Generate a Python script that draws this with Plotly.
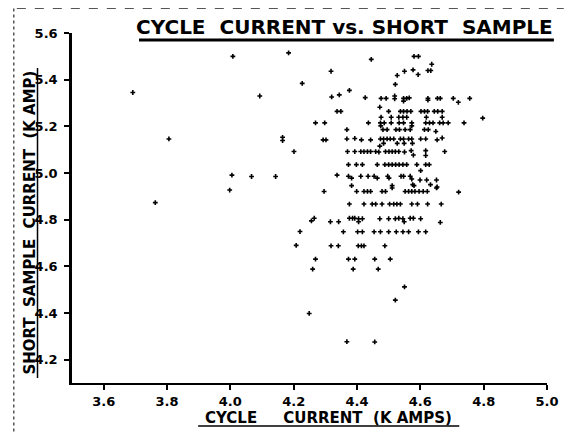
import plotly.graph_objects as go

# ---- data (k amps) ----
outlier_x = [3.692, 3.806, 3.763, 4.008, 4.093, 4.005, 3.998, 4.067, 4.143, 4.165, 4.165,
             4.184, 4.201, 4.227, 4.208, 4.220, 4.256, 4.265, 4.269, 4.260, 4.249,
             4.269, 4.298, 4.293, 4.302, 4.296, 4.318, 4.320, 4.344, 4.376, 4.337, 4.349,
             4.316, 4.342, 4.318, 4.341, 4.357, 4.337, 4.368, 4.368, 4.456, 4.521, 4.550,
             4.445, 4.580, 4.594, 4.797, 4.738, 4.721, 4.756, 4.704, 4.720]
outlier_y = [5.345, 5.146, 4.873, 5.500, 5.330, 4.991, 4.927, 4.985, 4.985, 5.153, 5.139,
             5.515, 5.092, 5.384, 4.690, 4.749, 4.795, 4.806, 4.631, 4.588, 4.398,
             5.215, 5.215, 5.142, 5.142, 4.921, 5.436, 5.326, 5.335, 5.354, 5.264, 5.264,
             4.791, 4.791, 4.688, 4.688, 4.748, 4.991, 5.186, 4.277, 4.276, 4.455, 4.512,
             5.487, 5.500, 5.500, 5.235, 5.215, 4.918, 5.320, 5.320, 5.303]

upper_x = [4.527, 4.550, 4.577, 4.593, 4.624, 4.633, 4.636, 4.521,
           4.426, 4.476, 4.492, 4.519, 4.519, 4.547, 4.557, 4.565, 4.547, 4.624, 4.624,
           4.654, 4.663,
           4.472, 4.500, 4.537, 4.547, 4.558, 4.570, 4.602, 4.613, 4.623, 4.644, 4.655, 4.669,
           4.476, 4.508, 4.532, 4.545, 4.557, 4.619, 4.669,
           4.436, 4.474, 4.486, 4.508, 4.533, 4.547, 4.573, 4.617, 4.629, 4.640, 4.661,
           4.672, 4.688, 4.475, 4.573]
upper_y = [5.418, 5.436, 5.442, 5.422, 5.439, 5.439, 5.466, 5.380,
           5.323, 5.320, 5.320, 5.330, 5.318, 5.320, 5.320, 5.322, 5.308, 5.320, 5.312,
           5.320, 5.320,
           5.282, 5.264, 5.264, 5.264, 5.264, 5.264, 5.264, 5.264, 5.264, 5.264, 5.264, 5.264,
           5.239, 5.239, 5.239, 5.239, 5.239, 5.239, 5.239,
           5.215, 5.215, 5.215, 5.215, 5.215, 5.215, 5.215, 5.215, 5.215, 5.215, 5.215,
           5.215, 5.215, 5.202, 5.202]

middle_x = [4.482, 4.495, 4.523, 4.534, 4.552, 4.568, 4.613, 4.625, 4.649,
            4.368, 4.393, 4.414, 4.443, 4.474, 4.484, 4.495, 4.505, 4.516, 4.537, 4.547,
            4.563, 4.573, 4.601, 4.617, 4.653, 4.669,
            4.484, 4.527, 4.549, 4.575, 4.472,
            4.370, 4.393, 4.412, 4.422, 4.433, 4.443, 4.459, 4.469, 4.490, 4.501, 4.511,
            4.521, 4.532, 4.550, 4.571, 4.578, 4.617, 4.617, 4.677,
            4.373, 4.398, 4.417, 4.464, 4.488, 4.500, 4.511, 4.522, 4.533, 4.545, 4.557,
            4.589, 4.617, 4.628, 4.601]
middle_y = [5.186, 5.186, 5.186, 5.186, 5.186, 5.186, 5.186, 5.186, 5.178,
            5.146, 5.148, 5.142, 5.142, 5.146, 5.146, 5.146, 5.146, 5.146, 5.146, 5.146,
            5.146, 5.146, 5.146, 5.146, 5.142, 5.150,
            5.127, 5.127, 5.127, 5.127, 5.115,
            5.092, 5.092, 5.092, 5.092, 5.092, 5.092, 5.092, 5.090, 5.092, 5.092, 5.092,
            5.092, 5.092, 5.090, 5.096, 5.077, 5.096, 5.075, 5.092,
            5.036, 5.036, 5.036, 5.036, 5.036, 5.036, 5.036, 5.036, 5.036, 5.036, 5.036,
            5.036, 5.036, 5.036, 5.010]

lower_x = [4.373, 4.383, 4.412, 4.435, 4.454, 4.464, 4.497, 4.501, 4.539, 4.547, 4.568,
           4.573, 4.599, 4.620, 4.651,
           4.383, 4.511, 4.576, 4.580, 4.632, 4.653,
           4.399, 4.422, 4.433, 4.443, 4.479, 4.490, 4.511, 4.552, 4.563, 4.573, 4.583,
           4.596, 4.609, 4.622, 4.651,
           4.376, 4.422, 4.448, 4.459, 4.479, 4.503, 4.516, 4.526, 4.537, 4.573, 4.591,
           4.623, 4.666,
           4.376, 4.386, 4.393, 4.405, 4.417, 4.405, 4.472, 4.500, 4.521, 4.532, 4.545,
           4.549, 4.568, 4.578, 4.601, 4.663,
           4.402, 4.417, 4.454, 4.474, 4.500, 4.524, 4.545, 4.563, 4.594, 4.617,
           4.404, 4.414, 4.422, 4.488,
           4.373, 4.393, 4.456, 4.505,
           4.388, 4.467]
lower_y = [4.986, 4.978, 4.986, 4.986, 4.986, 4.978, 4.986, 4.978, 4.986, 4.986, 4.986,
           4.974, 4.970, 4.970, 4.970,
           4.946, 4.946, 4.950, 4.946, 4.950, 4.940,
           4.921, 4.921, 4.921, 4.921, 4.921, 4.921, 4.936, 4.921, 4.921, 4.921, 4.921,
           4.921, 4.921, 4.921, 4.936,
           4.867, 4.867, 4.867, 4.867, 4.867, 4.867, 4.867, 4.867, 4.867, 4.867, 4.867,
           4.867, 4.867,
           4.806, 4.806, 4.806, 4.804, 4.804, 4.791, 4.804, 4.804, 4.804, 4.806, 4.804,
           4.791, 4.806, 4.806, 4.804, 4.788,
           4.748, 4.748, 4.748, 4.748, 4.748, 4.748, 4.748, 4.748, 4.748, 4.748,
           4.688, 4.688, 4.688, 4.688,
           4.631, 4.631, 4.631, 4.631,
           4.588, 4.588]

x_ticks = [3.6, 3.8, 4.0, 4.2, 4.4, 4.6, 4.8, 5.0]
y_ticks = [4.2, 4.4, 4.6, 4.8, 5.0, 5.2, 5.4, 5.6]
x_tick_labels = ["3.6", "3.8", "4.0", "4.2", "4.4", "4.6", "4.8", "5.0"]
y_tick_labels = ["4.2", "4.4", "4.6", "4.8", "5.0", "5.2", "5.4", "5.6"]

title_text = "CYCLE  CURRENT vs. SHORT  SAMPLE"
x_title = "CYCLE     CURRENT  (K AMPS)"
y_title = "SHORT  SAMPLE  CURRENT  (K AMP)"

# ---- figure (page has an 8px body margin: figure coords = page coords - 8) ----
OFF = 8
W, H = 563, 425
L, R, T, B = 64, 17, 25, 50
PW, PH = W - L - R, H - T - B


def px(page_x):
    return (page_x - OFF - L) / PW


def py(page_y):
    return (H - B - (page_y - OFF)) / PH


all_x = outlier_x + upper_x + middle_x + lower_x
all_y = outlier_y + upper_y + middle_y + lower_y

fig = go.Figure()
fig.add_trace(go.Scatter(
    x=all_x, y=all_y, mode="markers",
    marker=dict(symbol="cross", size=4, color="black", line=dict(width=0)),
    showlegend=False, hoverinfo="skip"))

tick_font = dict(family="DejaVu Sans", size=13, color="black", weight="bold")

fig.update_layout(
    width=W, height=H,
    margin=dict(l=L, r=R, t=T, b=B, pad=0),
    paper_bgcolor="white", plot_bgcolor="white",
    xaxis=dict(range=[3.5, 5.0], tickvals=x_ticks, ticktext=x_tick_labels,
               showgrid=False, zeroline=False, showline=True, linecolor="black",
               linewidth=2, ticks="outside", ticklen=5, tickwidth=2, tickcolor="black",
               tickfont=tick_font, ticklabelstandoff=0),
    yaxis=dict(range=[4.1, 5.6], tickvals=y_ticks, ticktext=y_tick_labels,
               showgrid=False, zeroline=False, showline=True, linecolor="black",
               linewidth=2.5, ticks="outside", ticklen=5, tickwidth=2, tickcolor="black",
               tickfont=tick_font, ticklabelstandoff=4),
    font=dict(family="DejaVu Sans", color="black"),
)

annotations = [
    dict(text=title_text, x=px(349), y=py(27), xref="paper", yref="paper",
         showarrow=False, xanchor="center", yanchor="middle",
         font=dict(family="DejaVu Sans", size=20, color="black", weight="bold")),
    dict(text=x_title, x=px(332), y=py(418), xref="paper", yref="paper",
         showarrow=False, xanchor="center", yanchor="middle",
         font=dict(family="DejaVu Sans", size=15, color="black", weight="bold")),
    dict(text=y_title, x=px(29), y=py(223), xref="paper", yref="paper",
         showarrow=False, xanchor="center", yanchor="middle", textangle=-90,
         font=dict(family="DejaVu Sans", size=15, color="black", weight="bold")),
]
fig.update_layout(annotations=annotations)

shapes = [
    # title underline
    dict(type="line", xref="paper", yref="paper", x0=px(140), x1=px(561),
         y0=py(40), y1=py(40), line=dict(color="black", width=3)),
    # x title underline
    dict(type="line", xref="paper", yref="paper", x0=px(200), x1=px(465),
         y0=py(426), y1=py(426), line=dict(color="black", width=1.5)),
    # y title underline
    dict(type="line", xref="paper", yref="paper", x0=px(37), x1=px(37),
         y0=py(68), y1=py(378), line=dict(color="black", width=1.5)),
    # scanned page borders
    dict(type="line", xref="paper", yref="paper", x0=px(13), x1=px(13),
         y0=py(8.5), y1=py(433), line=dict(color="black", width=1, dash="dot")),
    dict(type="line", xref="paper", yref="paper", x0=px(16), x1=px(571),
         y0=py(8.5), y1=py(8.5), line=dict(color="#555555", width=1, dash="dash")),
]
fig.update_layout(shapes=shapes)

fig.write_html("out.html")
